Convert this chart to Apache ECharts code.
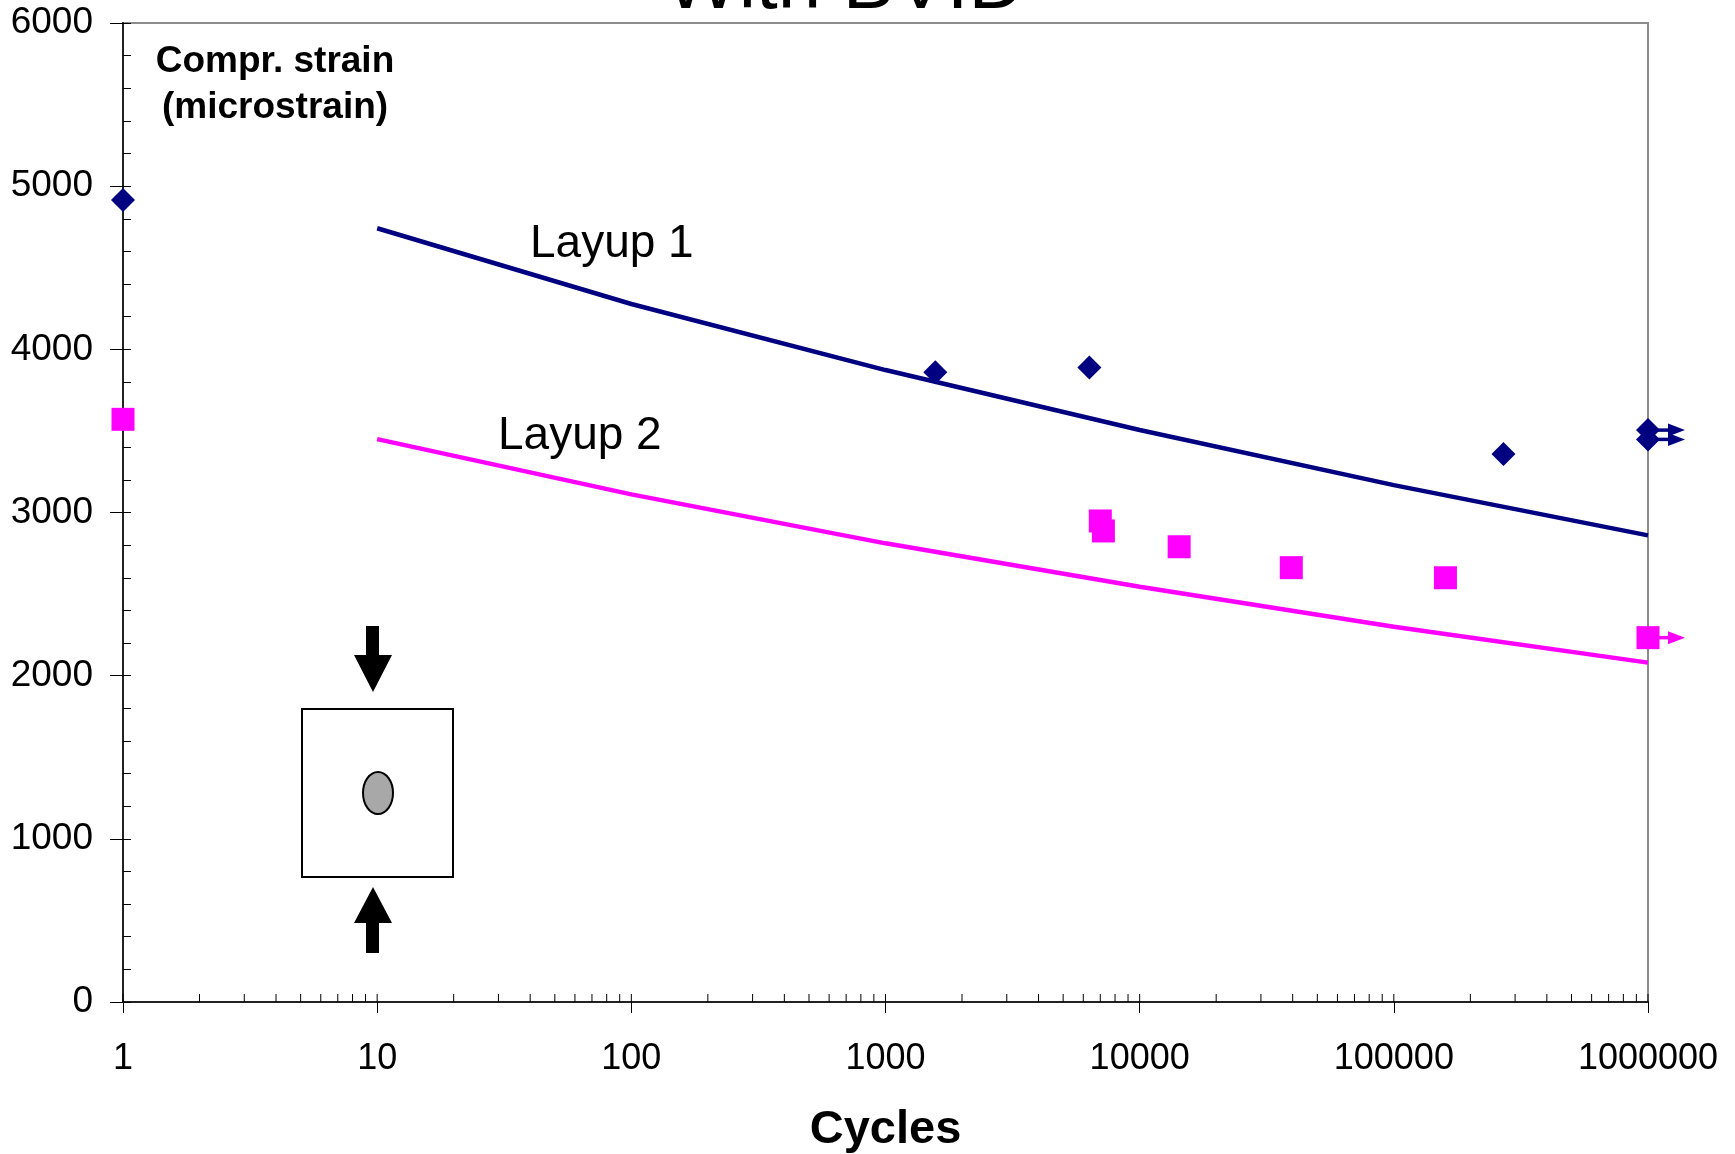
<!DOCTYPE html>
<html>
<head>
<meta charset="utf-8">
<title>Compression fatigue with BVID</title>
<script src="https://cdn.jsdelivr.net/npm/echarts@6/dist/echarts.min.js"></script>
<style>
  html, body { margin: 0; padding: 0; background: #ffffff; }
  #chart { width: 1735px; height: 1154px; }
</style>
</head>
<body>
<div id="chart"></div>
<script>
// Fatigue test results: [cycles, compressive strain in microstrain]
const layup1Tests = [[1, 4915], [1570, 3860], [6340, 3888], [270000, 3358], [1000000, 3505], [1000000, 3448]];
const layup2Tests = [[1, 3571], [7000, 2948], [7200, 2887], [14300, 2790], [39500, 2662], [159600, 2600], [1000000, 2233]];

// Fitted S-N curves, evaluated per decade
const layup1Curve = [[10, 4742], [100, 4278], [1000, 3873], [10000, 3506], [100000, 3168], [1000000, 2860]];
const layup2Curve = [[10, 3450], [100, 3111], [1000, 2811], [10000, 2545], [100000, 2300], [1000000, 2080]];

// Axis settings
const xMin = 1, xMax = 1000000;
const yMin = 0, yMax = 6000, yMajor = 1000, yMinor = 200;

// Specimens that reached the end of the test without failing
const RUNOUT_CYCLES = 1000000;
const layup1Runouts = layup1Tests.filter(p => p[0] >= RUNOUT_CYCLES);
const layup2Runouts = layup2Tests.filter(p => p[0] >= RUNOUT_CYCLES);

// Inner tick positions of the logarithmic cycles axis (1..9 per decade)
const xInnerTicks = [];
for (let d = xMin; d < xMax; d *= 10) {
  for (let k = 1; k <= 9; k++) xInnerTicks.push([k * d, yMin]);
}
xInnerTicks.push([xMax, yMin]);

const NAVY = '#000080';
const MAGENTA = '#ff00ff';
const FONT = "'Liberation Sans', Arial, Helvetica, sans-serif";

function runoutArrow(params, api) {
  const p = api.coord([api.value(0), api.value(1)]);
  const color = api.visual('color');
  const x = p[0], y = p[1];
  return {
    type: 'group',
    children: [
      { type: 'line', shape: { x1: x, y1: y, x2: x + 24, y2: y },
        style: { stroke: color, lineWidth: 3.5 } },
      { type: 'polygon', shape: { points: [[x + 20, y - 6.5], [x + 37, y], [x + 20, y + 6.5]] },
        style: { fill: color } }
    ]
  };
}

function innerTick(params, api) {
  const p = api.coord([api.value(0), api.value(1)]);
  return { type: 'line', shape: { x1: p[0], y1: p[1], x2: p[0], y2: p[1] - 8 },
           style: { stroke: '#000', lineWidth: 1 } };
}

const chart = echarts.init(document.getElementById('chart'), null, { renderer: 'canvas' });

const option = {
  animation: false,
  backgroundColor: '#ffffff',
  grid: {
    left: 123, right: 87, top: 23, bottom: 152,
    outerBoundsMode: 'none', containLabel: false,
    show: true, borderColor: '#8c8c8c', borderWidth: 2, backgroundColor: '#ffffff'
  },
  xAxis: {
    type: 'log', logBase: 10, min: xMin, max: xMax,
    name: 'Cycles', nameLocation: 'middle', nameGap: 128,
    nameTextStyle: { fontFamily: FONT, fontSize: 47, fontWeight: 'bold', color: '#000', verticalAlign: 'middle' },
    axisLine: { show: true, onZero: false, lineStyle: { color: '#222', width: 2 } },
    axisTick: { show: true, inside: false, length: 11, lineStyle: { color: '#000', width: 1 } },
    axisLabel: {
      margin: 57, verticalAlign: 'middle', fontFamily: FONT, fontSize: 36, color: '#000',
      formatter: v => String(Math.round(v))
    },
    splitLine: { show: false }
  },
  yAxis: [
    {
      type: 'value', min: yMin, max: yMax, interval: yMajor, position: 'left',
      axisLine: { show: true, lineStyle: { color: '#222', width: 2 } },
      axisTick: { show: true, inside: false, length: 13, lineStyle: { color: '#000', width: 1 } },
      axisLabel: { margin: 30, fontFamily: FONT, fontSize: 37, color: '#000',
                   formatter: v => String(Math.round(v)) },
      splitLine: { show: false }
    },
    {
      type: 'value', min: yMin, max: yMax, interval: yMinor, position: 'left',
      axisLine: { show: false },
      axisTick: { show: true, inside: true, length: 8, lineStyle: { color: '#000', width: 1 } },
      axisLabel: { show: false },
      splitLine: { show: false }
    }
  ],
  series: [
    {
      name: 'x inner ticks', type: 'custom', renderItem: innerTick,
      data: xInnerTicks, silent: true, z: 1
    },
    {
      name: 'Layup 1 fit', type: 'line', data: layup1Curve, showSymbol: false, symbol: 'none',
      lineStyle: { color: NAVY, width: 4.5 }, z: 2
    },
    {
      name: 'Layup 2 fit', type: 'line', data: layup2Curve, showSymbol: false, symbol: 'none',
      lineStyle: { color: MAGENTA, width: 4.5 }, z: 2
    },
    {
      name: 'Layup 1 run-outs', type: 'custom', renderItem: runoutArrow, data: layup1Runouts,
      itemStyle: { color: NAVY }, clip: false, z: 3
    },
    {
      name: 'Layup 2 run-outs', type: 'custom', renderItem: runoutArrow, data: layup2Runouts,
      itemStyle: { color: MAGENTA }, clip: false, z: 3
    },
    {
      name: 'Layup 1', type: 'scatter', data: layup1Tests, symbol: 'diamond', symbolSize: 24,
      itemStyle: { color: NAVY, opacity: 1 }, clip: false, z: 4
    },
    {
      name: 'Layup 2', type: 'scatter', data: layup2Tests, symbol: 'rect', symbolSize: 23,
      itemStyle: { color: MAGENTA, opacity: 1 }, clip: false, z: 4
    }
  ],
  graphic: [
    // chart title (runs off the top of the page)
    { type: 'text', x: 845, y: -14, z: 10,
      style: { text: 'With BVID', fontFamily: FONT, fontSize: 78, fill: '#000',
               align: 'center', verticalAlign: 'middle', textAlign: 'center', textVerticalAlign: 'middle' } },
    // y-axis caption inside the plot
    { type: 'text', x: 275, y: 62, z: 10,
      style: { text: 'Compr. strain', fontFamily: FONT, fontSize: 37, fontWeight: 'bold', fill: '#000',
               align: 'center', verticalAlign: 'middle', textAlign: 'center', textVerticalAlign: 'middle' } },
    { type: 'text', x: 275, y: 108, z: 10,
      style: { text: '(microstrain)', fontFamily: FONT, fontSize: 37, fontWeight: 'bold', fill: '#000',
               align: 'center', verticalAlign: 'middle', textAlign: 'center', textVerticalAlign: 'middle' } },
    // curve labels
    { type: 'text', x: 530, y: 244, z: 10,
      style: { text: 'Layup 1', fontFamily: FONT, fontSize: 46, fill: '#000',
               align: 'left', verticalAlign: 'middle', textAlign: 'left', textVerticalAlign: 'middle' } },
    { type: 'text', x: 498, y: 436, z: 10,
      style: { text: 'Layup 2', fontFamily: FONT, fontSize: 46, fill: '#000',
               align: 'left', verticalAlign: 'middle', textAlign: 'left', textVerticalAlign: 'middle' } },
    // specimen sketch: plate with impact damage under compression
    { type: 'rect', shape: { x: 302, y: 709, width: 151, height: 168 }, z: 10,
      style: { fill: '#ffffff', stroke: '#000', lineWidth: 2 } },
    { type: 'ellipse', shape: { cx: 378, cy: 793, rx: 15, ry: 21 }, z: 11,
      style: { fill: '#a8a8a8', stroke: '#000', lineWidth: 2 } },
    { type: 'polygon', z: 11,
      shape: { points: [[366, 626], [379, 626], [379, 655], [392, 655], [373, 692], [354, 655], [366, 655]] },
      style: { fill: '#000' } },
    { type: 'polygon', z: 11,
      shape: { points: [[366, 953], [379, 953], [379, 923], [392, 923], [373, 887], [354, 923], [366, 923]] },
      style: { fill: '#000' } }
  ]
};

chart.setOption(option);
</script>
</body>
</html>
